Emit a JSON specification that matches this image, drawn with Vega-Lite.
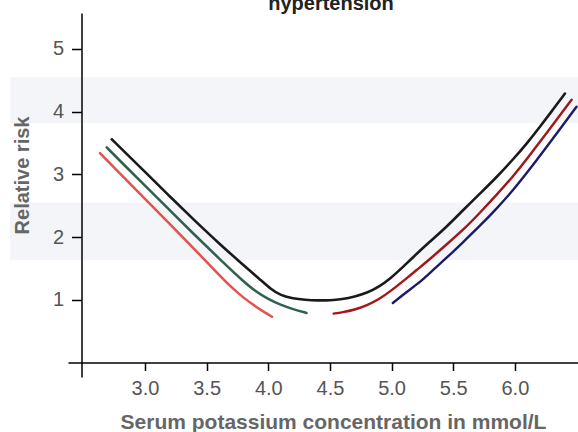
{
  "$schema": "https://vega.github.io/schema/vega-lite/v6.json",
  "autosize": {"type": "none"},
  "padding": {"left": 68, "top": 13, "right": 0, "bottom": 55},
  "width": 510,
  "height": 364,
  "background": "white",
  "config": {"view": {"stroke": null}, "font": "Liberation Sans"},
  "title": {
    "text": "hypertension",
    "font": "Liberation Sans",
    "fontSize": 20,
    "fontWeight": "bold",
    "color": "#222222",
    "frame": "group",
    "baseline": "alphabetic",
    "offset": -17,
    "dx": 8,
    "anchor": "middle"
  },
  "datasets": {
    "bands": [
      {"lo": 3.82, "hi": 4.55},
      {"lo": 1.63, "hi": 2.55}
    ],
    "curves": [
      {"series": "black", "k": 2.73, "rr": 3.56},
      {"series": "black", "k": 2.85, "rr": 3.33},
      {"series": "black", "k": 3.0, "rr": 3.04},
      {"series": "black", "k": 3.2, "rr": 2.65},
      {"series": "black", "k": 3.4, "rr": 2.27},
      {"series": "black", "k": 3.6, "rr": 1.90},
      {"series": "black", "k": 3.8, "rr": 1.55},
      {"series": "black", "k": 3.93, "rr": 1.33},
      {"series": "black", "k": 4.02, "rr": 1.17},
      {"series": "black", "k": 4.1, "rr": 1.07},
      {"series": "black", "k": 4.2, "rr": 1.02},
      {"series": "black", "k": 4.3, "rr": 1.00},
      {"series": "black", "k": 4.4, "rr": 0.99},
      {"series": "black", "k": 4.5, "rr": 0.99},
      {"series": "black", "k": 4.6, "rr": 1.01},
      {"series": "black", "k": 4.7, "rr": 1.05},
      {"series": "black", "k": 4.8, "rr": 1.11},
      {"series": "black", "k": 4.9, "rr": 1.21},
      {"series": "black", "k": 4.99, "rr": 1.34},
      {"series": "black", "k": 5.08, "rr": 1.50},
      {"series": "black", "k": 5.18, "rr": 1.69},
      {"series": "black", "k": 5.3, "rr": 1.91},
      {"series": "black", "k": 5.45, "rr": 2.17},
      {"series": "black", "k": 5.58, "rr": 2.43},
      {"series": "black", "k": 5.72, "rr": 2.70},
      {"series": "black", "k": 5.85, "rr": 2.95},
      {"series": "black", "k": 5.99, "rr": 3.25},
      {"series": "black", "k": 6.1, "rr": 3.50},
      {"series": "black", "k": 6.2, "rr": 3.75},
      {"series": "black", "k": 6.3, "rr": 4.01},
      {"series": "black", "k": 6.406, "rr": 4.29},

      {"series": "green", "k": 2.69, "rr": 3.43},
      {"series": "green", "k": 2.8, "rr": 3.21},
      {"series": "green", "k": 3.0, "rr": 2.82},
      {"series": "green", "k": 3.2, "rr": 2.43},
      {"series": "green", "k": 3.4, "rr": 2.04},
      {"series": "green", "k": 3.6, "rr": 1.66},
      {"series": "green", "k": 3.8, "rr": 1.29},
      {"series": "green", "k": 3.9, "rr": 1.13},
      {"series": "green", "k": 4.0, "rr": 1.01},
      {"series": "green", "k": 4.1, "rr": 0.92},
      {"series": "green", "k": 4.2, "rr": 0.85},
      {"series": "green", "k": 4.31, "rr": 0.79},

      {"series": "red", "k": 2.635, "rr": 3.34},
      {"series": "red", "k": 2.8, "rr": 3.01},
      {"series": "red", "k": 3.0, "rr": 2.61},
      {"series": "red", "k": 3.2, "rr": 2.21},
      {"series": "red", "k": 3.4, "rr": 1.81},
      {"series": "red", "k": 3.6, "rr": 1.40},
      {"series": "red", "k": 3.7, "rr": 1.20},
      {"series": "red", "k": 3.8, "rr": 1.03},
      {"series": "red", "k": 3.9, "rr": 0.89},
      {"series": "red", "k": 3.97, "rr": 0.80},
      {"series": "red", "k": 4.03, "rr": 0.73},

      {"series": "darkred", "k": 4.53, "rr": 0.78},
      {"series": "darkred", "k": 4.6, "rr": 0.80},
      {"series": "darkred", "k": 4.7, "rr": 0.84},
      {"series": "darkred", "k": 4.8, "rr": 0.91},
      {"series": "darkred", "k": 4.9, "rr": 1.01},
      {"series": "darkred", "k": 5.0, "rr": 1.15},
      {"series": "darkred", "k": 5.12, "rr": 1.34},
      {"series": "darkred", "k": 5.2, "rr": 1.47},
      {"series": "darkred", "k": 5.3, "rr": 1.63},
      {"series": "darkred", "k": 5.45, "rr": 1.89},
      {"series": "darkred", "k": 5.6, "rr": 2.15},
      {"series": "darkred", "k": 5.717, "rr": 2.39},
      {"series": "darkred", "k": 5.85, "rr": 2.67},
      {"series": "darkred", "k": 5.987, "rr": 2.97},
      {"series": "darkred", "k": 6.1, "rr": 3.25},
      {"series": "darkred", "k": 6.258, "rr": 3.66},
      {"series": "darkred", "k": 6.46, "rr": 4.19},

      {"series": "navy", "k": 5.01, "rr": 0.95},
      {"series": "navy", "k": 5.1, "rr": 1.09},
      {"series": "navy", "k": 5.2, "rr": 1.24},
      {"series": "navy", "k": 5.257, "rr": 1.33},
      {"series": "navy", "k": 5.35, "rr": 1.50},
      {"series": "navy", "k": 5.447, "rr": 1.67},
      {"series": "navy", "k": 5.58, "rr": 1.92},
      {"series": "navy", "k": 5.717, "rr": 2.18},
      {"series": "navy", "k": 5.85, "rr": 2.45},
      {"series": "navy", "k": 5.987, "rr": 2.75},
      {"series": "navy", "k": 6.12, "rr": 3.08},
      {"series": "navy", "k": 6.258, "rr": 3.44},
      {"series": "navy", "k": 6.38, "rr": 3.76},
      {"series": "navy", "k": 6.5, "rr": 4.08}
    ]
  },
  "layer": [
    {
      "data": {"name": "bands"},
      "mark": {"type": "rect", "color": "#f3f5f9", "clip": false},
      "encoding": {
        "x": {"datum": 1.905, "type": "quantitative", "scale": {"domain": [2.3755, 6.512], "nice": false, "zero": false}},
        "x2": {"datum": 6.6},
        "y": {"field": "lo", "type": "quantitative"},
        "y2": {"field": "hi"}
      }
    },
    {
      "data": {"name": "curves"},
      "mark": {"type": "line", "interpolate": "basis", "strokeCap": "round"},
      "encoding": {
        "x": {
          "field": "k",
          "type": "quantitative",
          "scale": {"domain": [2.3755, 6.512], "nice": false, "zero": false},
          "axis": {
            "values": [3, 3.5, 4, 4.5, 5, 5.5, 6],
            "format": ".1f",
            "offset": -14.5,
            "zindex": 1,
            "grid": false,
            "domainColor": "#000000",
            "domainWidth": 1.5,
            "tickColor": "#000000",
            "tickWidth": 1.5,
            "tickSize": 8,
            "labelPadding": 8,
            "labelFont": "Liberation Sans",
            "labelFontSize": 20,
            "labelColor": "#555555",
            "title": "Serum potassium concentration in mmol/L",
            "titleFont": "Liberation Sans",
            "titleFontSize": 21,
            "titleFontWeight": "bold",
            "titleColor": "#666666",
            "titlePadding": 13,
            "titleX": 265
          }
        },
        "y": {
          "field": "rr",
          "type": "quantitative",
          "scale": {"domain": [-0.231, 5.574], "nice": false, "zero": false},
          "axis": {
            "values": [1, 2, 3, 4, 5],
            "format": "d",
            "offset": -13.5,
            "zindex": 1,
            "grid": false,
            "domainColor": "#000000",
            "domainWidth": 1.5,
            "tickColor": "#000000",
            "tickWidth": 1.5,
            "tickSize": 10,
            "labelPadding": 8,
            "labelFont": "Liberation Sans",
            "labelFontSize": 20,
            "labelColor": "#555555",
            "title": "Relative risk",
            "titleFont": "Liberation Sans",
            "titleFontSize": 20,
            "titleFontWeight": "bold",
            "titleColor": "#666666",
            "titlePadding": 20,
            "titleY": 162
          }
        },
        "color": {
          "field": "series",
          "type": "nominal",
          "scale": {
            "domain": ["black", "green", "red", "darkred", "navy"],
            "range": ["#1a1a1a", "#2f6150", "#e2534b", "#a01818", "#1b1b66"]
          },
          "legend": null
        },
        "strokeWidth": {
          "field": "series",
          "type": "nominal",
          "scale": {
            "domain": ["black", "green", "red", "darkred", "navy"],
            "range": [2.6, 2.4, 2.2, 2.2, 2.2]
          },
          "legend": null
        }
      }
    }
  ]
}
